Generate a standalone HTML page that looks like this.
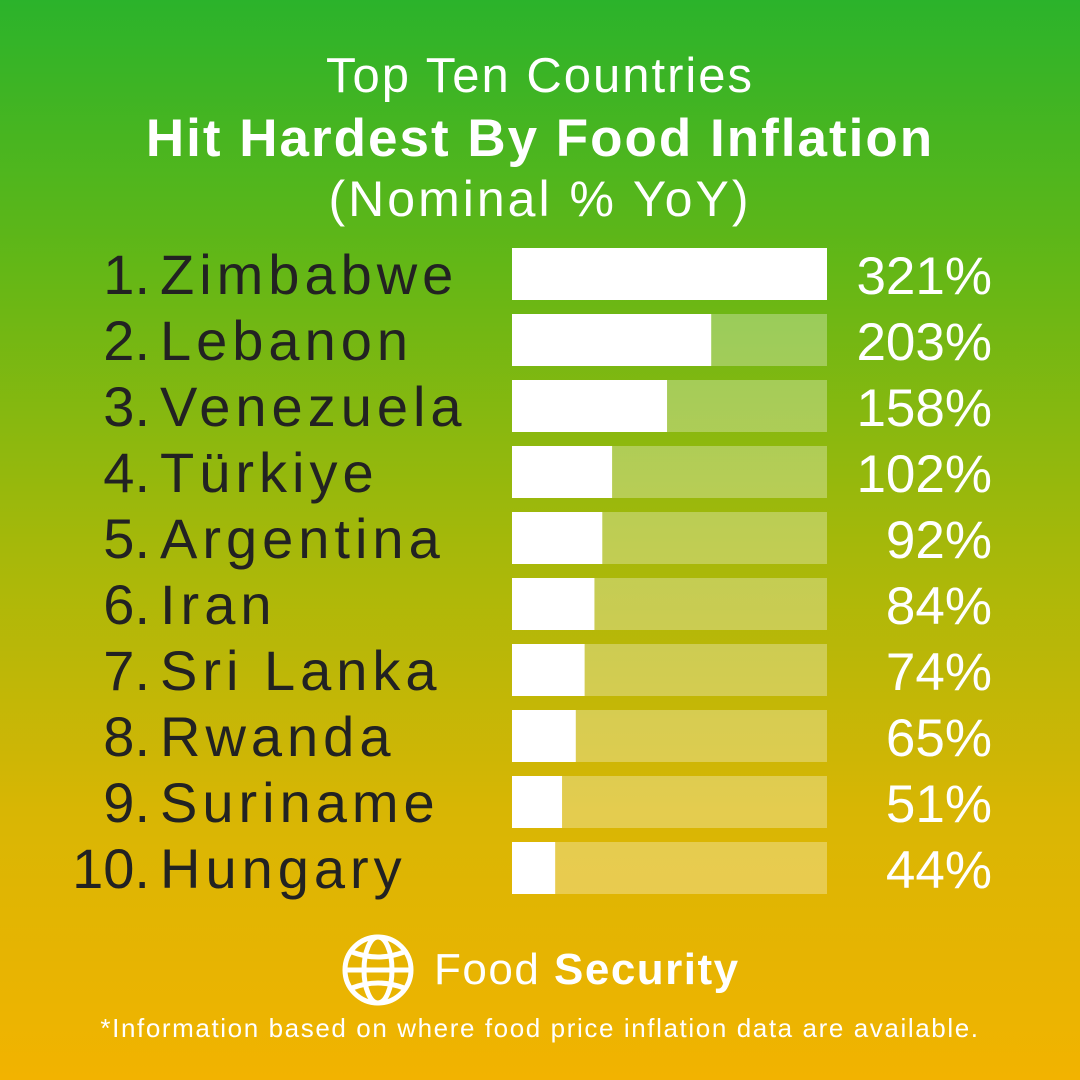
<!DOCTYPE html>
<html><head><meta charset="utf-8">
<style>
html,body{margin:0;padding:0}
body{width:1080px;height:1080px;overflow:hidden;font-family:"Liberation Sans","DejaVu Sans",sans-serif;
background:linear-gradient(180deg,#2bb32b 0%,#64b716 25%,#a4b80a 50%,#d8b604 75%,#f2b300 100%);position:relative}
.t{position:absolute;left:0;width:1080px;text-align:center;color:#fff;white-space:nowrap}
</style></head><body>
<div class="t" style="top:48px;font-size:49px;letter-spacing:2px">Top Ten Countries</div>
<div class="t" style="top:108px;font-size:53px;font-weight:bold;letter-spacing:2px">Hit Hardest By Food Inflation</div>
<div class="t" style="top:170px;font-size:50px;letter-spacing:3px">(Nominal % YoY)</div>
<svg id="chart" width="1080" height="1080" style="position:absolute;left:0;top:0"></svg>
<div style="position:absolute;left:340px;top:932px;height:76px;display:flex;align-items:center;color:#fff;font-size:44px;letter-spacing:1.5px">
<svg width="76" height="76" viewBox="0 0 76 76" style="margin-right:18px">
<g fill="none" stroke="#fff" stroke-width="5"><circle cx="38" cy="38" r="33"/><ellipse cx="38" cy="38" rx="14" ry="33"/><line x1="5" y1="38" x2="71" y2="38"/><path d="M12 20 Q38 30 64 20"/><path d="M12 56 Q38 46 64 56"/></g></svg>
<span>Food <b>Security</b></span></div>
<div class="t" style="top:1013px;font-size:26px;letter-spacing:1.6px">*Information based on where food price inflation data are available.</div>
<script>
const countries=["1. Zimbabwe","2. Lebanon","3. Venezuela","4. Türkiye","5. Argentina","6. Iran","7. Sri Lanka","8. Rwanda","9. Suriname","10. Hungary"];
const values=[321,203,158,102,92,84,74,65,51,44];
const valueLabels=["321%","203%","158%","102%","92%","84%","74%","65%","51%","44%"];
const svg=document.getElementById('chart');
const NS='http://www.w3.org/2000/svg';
const x0=512,trackW=315,maxV=321;
function xs(v){return v/maxV*trackW;}
function ys(i){return 274+i*66;}
countries.forEach((c,i)=>{
 const cy=ys(i);
 const tr=document.createElementNS(NS,'rect');
 tr.setAttribute('x',x0);tr.setAttribute('y',cy-26);tr.setAttribute('width',trackW);tr.setAttribute('height',52);tr.setAttribute('fill','rgba(255,255,255,0.3)');
 
 
 svg.appendChild(tr);
 const b=document.createElementNS(NS,'rect');
 b.setAttribute('x',x0);b.setAttribute('y',cy-26);b.setAttribute('width',xs(values[i]));b.setAttribute('height',52);b.setAttribute('fill','#fff');
 
 
 svg.appendChild(b);
 const sp=c.indexOf(' ');
 const n=document.createElementNS(NS,'text');
 n.setAttribute('x',150);n.setAttribute('y',cy+20);n.setAttribute('text-anchor','end');n.setAttribute('font-size','56');n.setAttribute('fill','#222');
 n.textContent=c.slice(0,sp);
 
 
 svg.appendChild(n);
 const t=document.createElementNS(NS,'text');
 t.setAttribute('x',160);t.setAttribute('y',cy+20);t.setAttribute('font-size','56');t.setAttribute('fill','#222');t.setAttribute('letter-spacing','5');
 t.textContent=c.slice(sp+1);
 
 
 svg.appendChild(t);
 const v=document.createElementNS(NS,'text');
 v.setAttribute('x',992);v.setAttribute('y',cy+20);v.setAttribute('text-anchor','end');v.setAttribute('font-size','53');v.setAttribute('fill','#fff');
 v.textContent=valueLabels[i];
 
 
 svg.appendChild(v);
});
</script>
</body></html>
